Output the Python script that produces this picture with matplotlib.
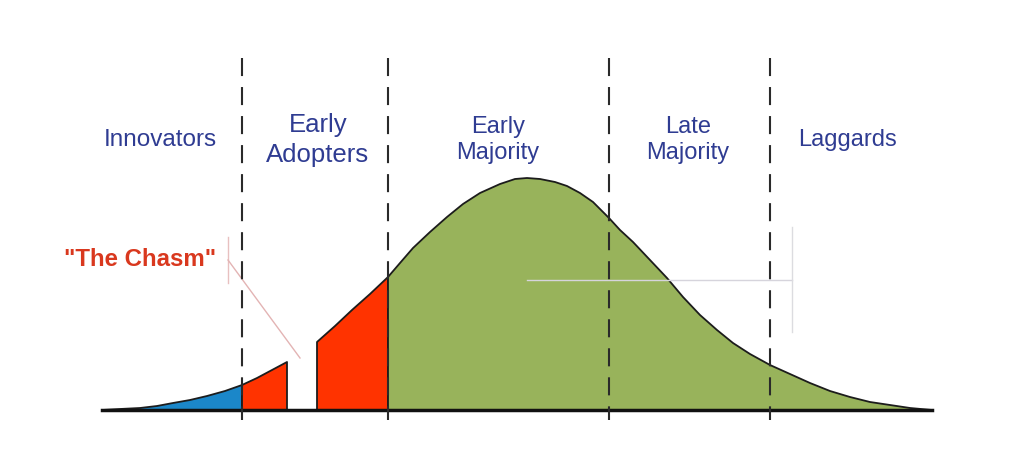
import matplotlib.pyplot as plt

# adoption curve (x position, height above baseline)
curve_x = [102, 120, 140, 157, 173, 190, 207, 225, 242, 257, 272, 287,
           317, 335, 352, 370, 388, 400, 413, 430, 447, 463, 480, 500, 515,
           527, 540, 555, 567, 580, 593, 609, 620, 633, 650, 667, 683, 700,
           717, 733, 750, 770, 790, 810, 830, 850, 870, 890, 910, 932]
curve_h = [0, 1, 2, 4, 7, 10, 14, 19, 25, 32, 40, 48,
           68, 84, 100, 116, 133, 147, 162, 178, 193, 206, 217, 226, 231,
           232, 231, 228, 224, 217, 208, 192, 180, 168, 150, 132, 113, 95,
           80, 67, 56, 45, 36, 27, 19, 13, 8, 5, 2, 0]

dividers = [242, 388, 609, 770]
groups = ['Innovators', 'Early\nAdopters', 'Early\nMajority', 'Late\nMajority', 'Laggards']
group_x = [160, 318, 498, 688, 847]

# filled pieces of the curve: (start, end)
pieces = [(102, 242), (242, 287), (317, 388), (388, 932)]
piece_colors = ['#1b87c9', '#ff3300', '#ff3300', '#98b35b']

plt.rcParams['font.family'] = ['Liberation Sans', 'DejaVu Sans']
plt.rcParams['lines.scale_dashes'] = False

fig = plt.figure(figsize=(10.25, 4.62), dpi=100)
ax = fig.add_axes([0, 0, 1, 1])
ax.set_xlim(0, 1025)
ax.set_ylim(-52, 410)
ax.axis('off')

for (a, b), c in zip(pieces, piece_colors):
    px = [x for x in curve_x if a <= x <= b]
    ph = [h for x, h in zip(curve_x, curve_h) if a <= x <= b]
    ax.fill(px + [b, a], ph + [0, 0], facecolor=c, edgecolor='#1c1c1c',
            linewidth=1.3, joinstyle='round', zorder=2)

ax.plot([102, 932], [0, 0], color='#111111', linewidth=2.5, zorder=3)

# faint guide lines left in the picture
ax.plot([527, 792], [130, 130], color='#d6d4dc', linewidth=1, zorder=3)
ax.plot([792, 792], [183, 78], color='#dcdce0', linewidth=1, zorder=3)
ax.plot([228, 228], [173, 127], color='#e8c0c0', linewidth=1, zorder=3)
ax.plot([228, 300], [150, 52], color='#e3b4b4', linewidth=1, zorder=3)

for x in dividers:
    ax.plot([x, x], [352, -10], color='#2a2a2a', linewidth=1.5,
            dashes=(13.0, 7.9), zorder=4)

for name, x in zip(groups, group_x):
    if name == 'Early\nAdopters':
        fs, ls = 18.5, 1.3
    elif name == 'Innovators':
        fs, ls = 17.5, 1.2
    else:
        fs, ls = 17, 1.25
    ax.text(x, 270, name, ha='center', va='center', fontsize=fs,
            color='#2f3c92', linespacing=ls, zorder=5)

ax.text(140, 150, '"The Chasm"', ha='center', va='center', fontsize=17.3,
        fontweight='bold', color='#d9381e', zorder=5)

fig.savefig('out.png', dpi=100, facecolor='white')
